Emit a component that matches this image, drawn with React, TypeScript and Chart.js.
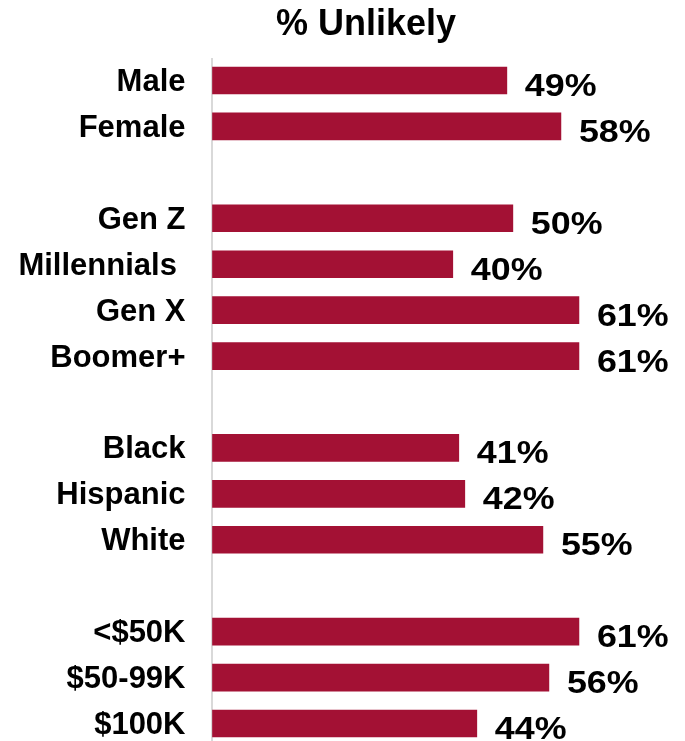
import React, { useEffect, useRef } from "react";
import { Chart, registerables } from "chart.js";

Chart.register(...registerables);

const categories = [
  "Male",
  "Female",
  "",
  "Gen Z",
  "Millennials ",
  "Gen X",
  "Boomer+",
  "",
  "Black",
  "Hispanic",
  "White",
  "",
  "<$50K",
  "$50-99K",
  "$100K",
];
const unlikelyValues: (number | null)[] = [49, 58, null, 50, 40, 61, 61, null, 41, 42, 55, null, 61, 56, 44];
const titleText = "% Unlikely";

const FONT = '"Liberation Sans", Arial, sans-serif';
const BAR_COLOR = "#A31134";

const overlayPlugin = {
  id: "overlay",
  beforeDatasetsDraw(chart: any) {
    const ctx = chart.ctx;
    const x0 = chart.scales.x.getPixelForValue(0);
    ctx.save();
    ctx.strokeStyle = "#D9D9D9";
    ctx.lineWidth = 2;
    ctx.beginPath();
    ctx.moveTo(x0 - 0.5, 58);
    ctx.lineTo(x0 - 0.5, chart.height);
    ctx.stroke();
    ctx.restore();
  },
  afterDatasetsDraw(chart: any) {
    const ctx = chart.ctx;
    const meta = chart.getDatasetMeta(0);
    ctx.save();
    ctx.fillStyle = "#000";
    ctx.font = `bold 32px ${FONT}`;
    ctx.textAlign = "left";
    ctx.textBaseline = "alphabetic";
    meta.data.forEach((bar: any, i: number) => {
      const v = unlikelyValues[i];
      if (v === null || v === undefined) return;
      ctx.save();
      ctx.translate(bar.x + 18, bar.y + 15.5);
      ctx.scale(1.12, 1);
      ctx.fillText(`${v}%`, 0, 0);
      ctx.restore();
    });
    ctx.font = `bold 36px ${FONT}`;
    ctx.textAlign = "center";
    ctx.fillText(titleText, 366, 35);
    ctx.restore();
  },
};

export default function App() {
  const canvasRef = useRef<HTMLCanvasElement | null>(null);

  useEffect(() => {
    if (!canvasRef.current) return;
    const chart = new Chart(canvasRef.current, {
      type: "bar",
      data: {
        labels: categories,
        datasets: [
          {
            data: unlikelyValues,
            backgroundColor: BAR_COLOR,
            borderWidth: 0,
            barThickness: 27,
            clip: false,
          },
        ],
      },
      options: {
        indexAxis: "y",
        animation: false,
        responsive: true,
        maintainAspectRatio: false,
        layout: { padding: { top: 80.5, bottom: 17.5, right: 52, left: 0 } },
        plugins: {
          legend: { display: false },
          title: { display: false },
          tooltip: { enabled: false },
        },
        scales: {
          x: {
            display: false,
            min: 0,
            max: 70,
          },
          y: {
            offset: false,
            grid: { display: false, drawTicks: false },
            border: { display: false },
            ticks: {
              color: "#000",
              padding: 27,
              labelOffset: 2,
              autoSkip: false,
              font: { family: FONT, size: 31, weight: "bold" },
            },
            afterFit(scale: any) {
              scale.width = 212.5;
              scale.paddingTop = 0;
              scale.paddingBottom = 0;
            },
          },
        },
      },
      plugins: [overlayPlugin],
    } as any);
    return () => chart.destroy();
  }, []);

  return (
    <div style={{ position: "absolute", left: 0, top: 0, width: 685, height: 741 }}>
      <canvas ref={canvasRef} />
    </div>
  );
}
